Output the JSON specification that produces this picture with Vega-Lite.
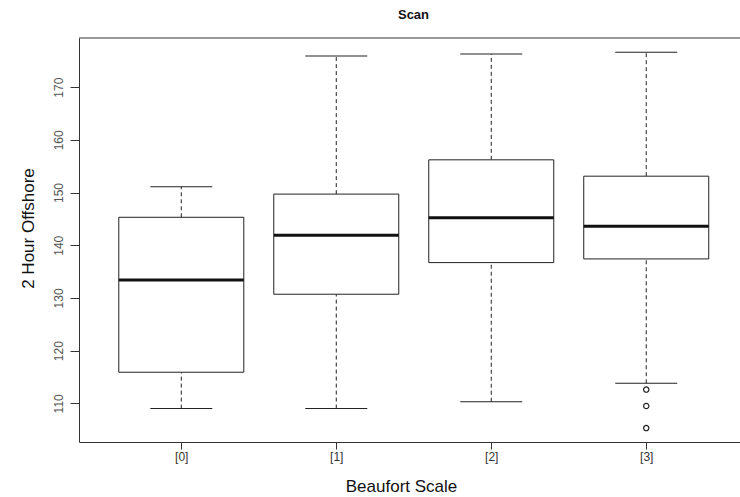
{
  "$schema": "https://vega.github.io/schema/vega-lite/v6.json",
  "autosize": "none",
  "padding": {"left": 79, "top": 38, "right": 0, "bottom": 55},
  "width": 661,
  "height": 404,
  "background": "white",
  "title": {"text": "Scan", "fontSize": 13, "fontWeight": "bold", "font": "Liberation Sans", "color": "#111", "anchor": "middle", "baseline": "alphabetic", "offset": 6, "dx": 4},
  "config": {
    "view": {"stroke": null},
    "axis": {"labelFont": "Liberation Sans", "titleFont": "Liberation Sans", "grid": false, "domainColor": "#333", "tickColor": "#333", "labelColor": "#333", "titleColor": "#111", "titleFontWeight": "normal"}
  },
  "datasets": {
    "boxes": [
      {"beaufort": 0, "lower": 109.0, "q1": 115.9, "median": 133.4, "q3": 145.3, "upper": 151.1},
      {"beaufort": 1, "lower": 109.0, "q1": 130.7, "median": 141.9, "q3": 149.7, "upper": 175.9},
      {"beaufort": 2, "lower": 110.3, "q1": 136.7, "median": 145.2, "q3": 156.2, "upper": 176.3},
      {"beaufort": 3, "lower": 113.8, "q1": 137.4, "median": 143.6, "q3": 153.1, "upper": 176.6}
    ],
    "outliers": [
      {"beaufort": 3, "value": 112.6},
      {"beaufort": 3, "value": 109.5},
      {"beaufort": 3, "value": 105.3}
    ],
    "frame": [{"top": 179.32}]
  },
  "layer": [
    {
      "data": {"name": "boxes"},
      "mark": {"type": "rule", "color": "#222", "strokeWidth": 1, "strokeDash": [4, 3]},
      "encoding": {
        "x": {"field": "beaufort", "type": "quantitative", "scale": {"domain": [-0.66, 3.605], "nice": false, "zero": false, "padding": 0},
          "axis": {"values": [0, 1, 2, 3], "labelExpr": "'[' + datum.value + ']'", "title": "Beaufort Scale", "tickSize": 7, "labelPadding": 2, "labelFontSize": 12, "labelBaseline": "top", "titleFontSize": 17, "titleX": 322, "titleY": 44, "titleBaseline": "middle", "titleAnchor": null, "titleAlign": "center"}},
        "y": {"field": "lower", "type": "quantitative", "scale": {"domain": [102.66, 179.32], "nice": false, "zero": false},
          "axis": {"values": [110, 120, 130, 140, 150, 160, 170], "title": "2 Hour Offshore", "tickSize": 9, "labelAngle": -90, "labelAlign": "center", "labelBaseline": "bottom", "labelPadding": 5, "labelFontSize": 12, "labelColor": "#555", "titleFontSize": 17, "titleX": -51, "titleY": 190, "titleAngle": -90, "titleAlign": "center", "titleBaseline": "middle", "titleAnchor": null}},
        "y2": {"field": "q1"}
      }
    },
    {
      "data": {"name": "boxes"},
      "mark": {"type": "rule", "color": "#222", "strokeWidth": 1, "strokeDash": [4, 3]},
      "encoding": {
        "x": {"field": "beaufort", "type": "quantitative", "scale": {"domain": [-0.66, 3.605], "nice": false, "zero": false, "padding": 0}},
        "y": {"field": "q3", "type": "quantitative", "scale": {"domain": [102.66, 179.32], "nice": false, "zero": false}},
        "y2": {"field": "upper"}
      }
    },
    {
      "data": {"name": "boxes"},
      "mark": {"type": "bar", "orient": "vertical", "width": 125, "fill": "white", "stroke": "#222", "strokeWidth": 1},
      "encoding": {
        "x": {"field": "beaufort", "type": "quantitative", "scale": {"domain": [-0.66, 3.605], "nice": false, "zero": false, "padding": 0}},
        "y": {"field": "q1", "type": "quantitative", "scale": {"domain": [102.66, 179.32], "nice": false, "zero": false}},
        "y2": {"field": "q3"}
      }
    },
    {
      "data": {"name": "boxes"},
      "mark": {"type": "tick", "orient": "horizontal", "size": 125, "thickness": 3, "color": "#111", "opacity": 1},
      "encoding": {
        "x": {"field": "beaufort", "type": "quantitative", "scale": {"domain": [-0.66, 3.605], "nice": false, "zero": false, "padding": 0}},
        "y": {"field": "median", "type": "quantitative", "scale": {"domain": [102.66, 179.32], "nice": false, "zero": false}}
      }
    },
    {
      "data": {"name": "boxes"},
      "mark": {"type": "tick", "orient": "horizontal", "size": 62, "thickness": 1, "color": "#222", "opacity": 1},
      "encoding": {
        "x": {"field": "beaufort", "type": "quantitative", "scale": {"domain": [-0.66, 3.605], "nice": false, "zero": false, "padding": 0}},
        "y": {"field": "lower", "type": "quantitative", "scale": {"domain": [102.66, 179.32], "nice": false, "zero": false}}
      }
    },
    {
      "data": {"name": "boxes"},
      "mark": {"type": "tick", "orient": "horizontal", "size": 62, "thickness": 1, "color": "#222", "opacity": 1},
      "encoding": {
        "x": {"field": "beaufort", "type": "quantitative", "scale": {"domain": [-0.66, 3.605], "nice": false, "zero": false, "padding": 0}},
        "y": {"field": "upper", "type": "quantitative", "scale": {"domain": [102.66, 179.32], "nice": false, "zero": false}}
      }
    },
    {
      "data": {"name": "outliers"},
      "mark": {"type": "point", "shape": "circle", "size": 28, "filled": false, "stroke": "#222", "strokeWidth": 1.2, "opacity": 1},
      "encoding": {
        "x": {"field": "beaufort", "type": "quantitative", "scale": {"domain": [-0.66, 3.605], "nice": false, "zero": false, "padding": 0}},
        "y": {"field": "value", "type": "quantitative", "scale": {"domain": [102.66, 179.32], "nice": false, "zero": false}}
      }
    },
    {
      "data": {"name": "frame"},
      "mark": {"type": "rule", "color": "#333", "strokeWidth": 1},
      "encoding": {
        "y": {"field": "top", "type": "quantitative", "scale": {"domain": [102.66, 179.32], "nice": false, "zero": false}}
      }
    }
  ]
}
